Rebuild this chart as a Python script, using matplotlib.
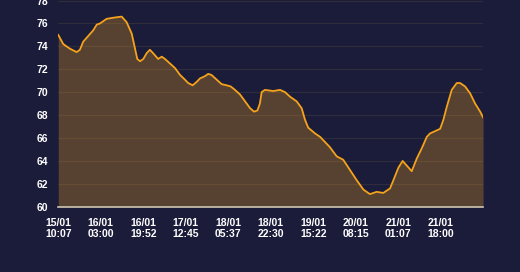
import matplotlib
matplotlib.use('Agg')
import matplotlib.pyplot as plt

# hours since 15/01 10:07 and the reading at that time
hours = [0, 2.0, 4.6, 7.3, 8.6, 9.9, 11.9, 13.9, 15.3, 16.6, 19.2, 21.9, 25.2, 27.2,
         29.2, 30.5, 31.4, 32.5, 33.8, 35.1, 36.4, 37.7, 39.7, 41.1, 42.4, 44.4,
         46.4, 48.4, 50.3, 51.6, 53.4, 55.0, 56.3, 58.3, 59.6, 60.9, 62.9, 64.9,
         66.9, 68.5, 70.2, 72.2, 74.2, 76.2, 77.8, 79.1, 80.1, 80.8, 82.1, 85.4,
         88.1, 90.1, 92.1, 94.7, 96.7, 98.0, 99.3, 102.0, 104.0, 107.9, 110.6,
         113.2, 115.9, 118.6, 121.2, 123.8, 126.5, 129.1, 131.8, 133.1, 135.1,
         136.8, 138.4, 140.4, 142.4, 144.4, 146.4, 147.7, 149.7, 151.7, 153.0,
         154.3, 156.3, 158.3, 159.6, 161.6, 163.6, 165.6, 167.6, 168.75]
values = [75.0, 74.2, 73.8, 73.5, 73.7, 74.4, 74.9, 75.4, 75.9, 76.0, 76.4, 76.5,
          76.6, 76.1, 75.1, 73.8, 72.9, 72.7, 72.9, 73.4, 73.7, 73.4, 72.9, 73.1,
          72.9, 72.5, 72.1, 71.5, 71.1, 70.8, 70.6, 70.9, 71.2, 71.4, 71.6, 71.5,
          71.1, 70.7, 70.6, 70.5, 70.2, 69.8, 69.2, 68.6, 68.3, 68.4, 69.0, 70.0,
          70.2, 70.1, 70.2, 70.0, 69.6, 69.2, 68.6, 67.6, 66.9, 66.4, 66.1, 65.2,
          64.4, 64.1, 63.2, 62.3, 61.5, 61.1, 61.3, 61.2, 61.6, 62.3, 63.4, 64.0,
          63.6, 63.1, 64.2, 65.1, 66.1, 66.4, 66.6, 66.8, 67.6, 68.7, 70.2, 70.8,
          70.8, 70.5, 69.9, 69.0, 68.3, 67.8]

tick_labels = ['15/01\n10:07', '16/01\n03:00', '16/01\n19:52', '17/01\n12:45',
               '18/01\n05:37', '18/01\n22:30', '19/01\n15:22', '20/01\n08:15',
               '21/01\n01:07', '21/01\n18:00']
tick_step = 16.875
y_ticks = [60, 62, 64, 66, 68, 70, 72, 74, 76, 78]

bg = '#1b1c3a'
line_c = '#f5a31a'

fig = plt.figure(figsize=(5.2, 2.72), dpi=100, facecolor=bg)
ax = fig.add_axes([0.112, 0.24, 0.817, 0.758])
ax.set_facecolor(bg)

ax.fill_between(hours, values, 60, color=line_c, alpha=0.28, lw=0, zorder=2)
ax.plot(hours, values, color=line_c, lw=1.3, zorder=3, solid_joinstyle='round')

ax.set_xlim(0, hours[-1])
ax.set_ylim(60, 78)
ax.set_yticks(y_ticks)
ax.set_xticks([i * tick_step for i in range(len(tick_labels))])
ax.set_xticklabels(tick_labels, linespacing=1.15)

for lab in ax.get_xticklabels() + ax.get_yticklabels():
    lab.set_fontfamily('Liberation Sans')
    lab.set_fontweight('bold')
    lab.set_fontsize(7.5)
    lab.set_color('white')

ax.tick_params(axis='both', length=0)
ax.tick_params(axis='y', pad=7)
ax.tick_params(axis='x', pad=8)
ax.grid(axis='y', color='#8a7a40', alpha=0.18, lw=0.8, zorder=4)
ax.grid(axis='x', visible=False)

for s in ['top', 'right', 'left']:
    ax.spines[s].set_visible(False)
ax.spines['bottom'].set_color('#cfc6b4')
ax.spines['bottom'].set_linewidth(1.2)
ax.spines['bottom'].set_zorder(5)

fig.savefig('out.png', dpi=100, facecolor=bg)
